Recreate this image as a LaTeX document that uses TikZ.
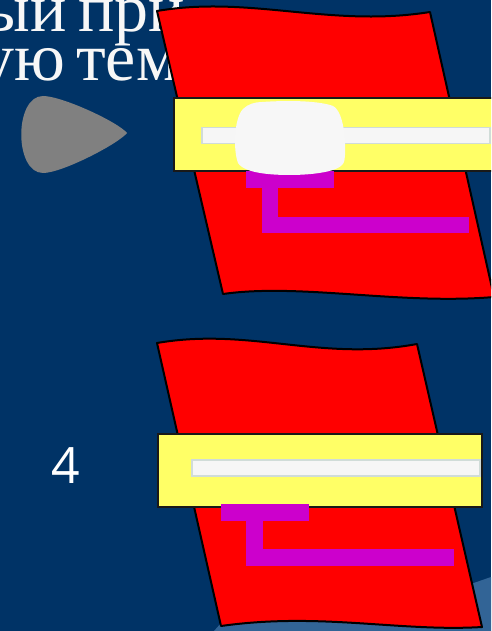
\documentclass[tikz,border=0pt]{standalone}
\usepackage{fontspec}
\setmainfont{Liberation Serif}
\newfontfamily\numfont{Open Sans}
\definecolor{bgblue}{RGB}{0,51,102}
\definecolor{lightwave}{RGB}{50,100,150}
\definecolor{flagred}{RGB}{255,0,0}
\definecolor{baryellow}{RGB}{255,255,102}
\definecolor{slotwhite}{RGB}{246,246,246}
\definecolor{slotedge}{RGB}{208,220,216}
\definecolor{clipmag}{RGB}{204,0,204}
\definecolor{blobwhite}{RGB}{247,247,247}
\definecolor{arrowgray}{RGB}{128,128,128}
\tikzset{
  flagshape/.style={fill=flagred, draw=black, line width=2pt, line join=round},
  barshape/.style={fill=baryellow, draw=black!90, line width=2pt},
  slotshape/.style={fill=slotwhite, draw=slotedge, line width=1.5pt},
  magshape/.style={fill=clipmag, draw=none},
  titletext/.style={text=white!97!black, font=\fontsize{68}{68}\selectfont, inner sep=0pt},
}
\begin{document}
\begin{tikzpicture}[x=1pt, y=-1pt]
\useasboundingbox (0,0) rectangle (491,631);
\clip (0,0) rectangle (491,631);
\fill[bgblue] (0,0) rectangle (491,631);
% lighter wave at bottom right
\fill[lightwave] (214,631) -- (222,622) -- (468,585) -- (491,577) -- (491,631) -- cycle;

% title text (partly hidden)
\node[titletext, anchor=base east] (w1) at (67,32) {ый};
\node[titletext, anchor=base west] (w2) at (78,32) {при};
\node[titletext, anchor=base east] (w3) at (66,81) {ую};
\node[titletext, anchor=base west] (w4) at (76,81) {тем};

% gray play arrow
\fill[arrowgray] (43,96) .. controls (62,96) and (118,122) .. (127,133)
  .. controls (118,144) and (62,173) .. (43,173)
  .. controls (14,173) and (14,96) .. (43,96) -- cycle;

% upper flag
\path[flagshape] (157,11) .. controls (250,-5) and (330,28) .. (430,12)
  -- (494,297) .. controls (400,305) and (300,283) .. (223,294) -- cycle;
\node[barshape, minimum width=330pt, minimum height=73pt, inner sep=0pt, anchor=north west] (bar1) at (173,97) {};
\node[slotshape, minimum width=288pt, minimum height=16pt, inner sep=0pt, anchor=north west] (slot1) at (201,127) {};
\fill[magshape] (246,171) rectangle (334,188);
\fill[magshape] (262,188) rectangle (278,233);
\fill[magshape] (262,217) rectangle (469,233);
\fill[blobwhite] (262,102) .. controls (290,100) and (320,101) .. (333,106)
  .. controls (345,112) and (347,150) .. (344,162)
  .. controls (340,174) and (300,175) .. (290,175)
  .. controls (275,175) and (245,174) .. (238,163)
  .. controls (233,150) and (234,118) .. (243,109)
  .. controls (248,104) and (255,102) .. (262,102) -- cycle;

% lower flag
\path[flagshape] (157,343) .. controls (250,327) and (320,362) .. (417,344)
  -- (482,627) .. controls (400,632) and (320,612) .. (221,626) -- cycle;
\node[barshape, minimum width=324pt, minimum height=73pt, inner sep=0pt, anchor=north west] (bar2) at (157,433) {};
\node[slotshape, minimum width=288pt, minimum height=16pt, inner sep=0pt, anchor=north west] (slot2) at (191,459) {};
\fill[magshape] (221,504) rectangle (309,521);
\fill[magshape] (246,521) rectangle (263,566);
\fill[magshape] (246,549) rectangle (454,566);

% number
\node[text=white, font=\numfont\fontsize{50}{50}\selectfont, inner sep=0pt] (num) at (66,466) {4};
\end{tikzpicture}
\end{document}
